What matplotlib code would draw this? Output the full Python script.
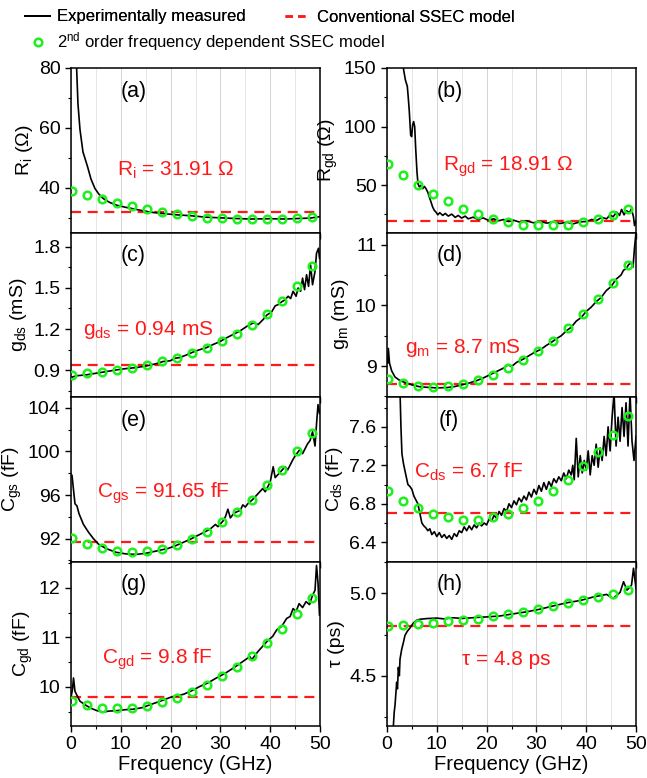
import numpy as np
import matplotlib
matplotlib.use("Agg")
import matplotlib.pyplot as plt
from matplotlib.lines import Line2D
from matplotlib.ticker import MultipleLocator, FormatStrFormatter

plt.rcParams['font.family'] = ['Liberation Sans', 'DejaVu Sans']
plt.rcParams['mathtext.fontset'] = 'custom'
plt.rcParams['mathtext.rm'] = 'Liberation Sans'
plt.rcParams['mathtext.it'] = 'Liberation Sans'
plt.rcParams['mathtext.default'] = 'regular'

# frequency points of the 2nd order model (GHz)
fit_freq = [0.3, 3.3, 6.3, 9.3, 12.3, 15.3, 18.3, 21.3, 24.3, 27.3, 30.3, 33.3, 36.3, 39.3, 42.3, 45.3, 48.3]

# (a) Ri
a_freq = [0.6, 0.9, 1.15, 1.4, 1.8, 2.4, 3.3, 4.0, 4.8, 5.6, 6.5, 7.8, 9.2, 11.0, 12.5, 14.0, 15.9, 18.0,
          21.2, 24.0, 27.2, 30.0, 32.6, 36.0, 40.0, 43.0, 46.0, 48.0, 50.0]
a_meas = [100, 88, 79, 68, 59.5, 52, 47.2, 43.0, 39.8, 37.9, 36.4, 35.1, 34.2, 33.5, 33.0, 32.5, 31.9, 31.5,
          31.0, 30.7, 30.2, 30.0, 29.8, 29.6, 29.7, 29.6, 29.8, 29.9, 30.4]
a_fit = [39.0, 37.5, 36.2, 34.9, 33.8, 32.8, 32.1, 31.3, 30.6, 30.1, 29.9, 29.7, 29.7, 29.7, 29.7, 29.9, 30.3]
a_conv = 31.91

# (b) Rgd
b_freq = [3.1, 3.28, 3.68, 4.08, 4.28, 4.48, 4.75, 4.95, 5.15, 5.35, 5.56, 5.76, 6.02, 6.22, 6.49, 6.83, 7.16,
          7.5, 7.83, 8.17, 8.5, 8.84, 9.17, 9.5, 9.84, 10.2, 10.6, 11.2, 11.7, 12.3, 13.0, 13.7, 14.3, 15.0,
          15.7, 16.3, 17.3, 18.3, 19.3, 20.3, 21.4, 22.4, 23.4, 24.4, 25.4, 26.7, 28.0, 29.4, 30.7, 32.1,
          33.4, 34.7, 36.1, 37.4, 38.8, 40.1, 41.1, 42.1, 43.1, 44.1, 44.8, 45.4, 46.1, 46.7, 47.1, 47.6,
          48.1, 48.7, 49.1, 49.5, 49.7, 50.0]
b_meas = [160, 150, 140, 134.3, 124.2, 112.8, 92.8, 91.4, 101.4, 104.2, 99.9, 81.3, 61.2, 51.2, 48.4, 49.8, 46.9,
          48.9, 46.9, 44.1, 39.8, 35.5, 31.2, 28.4, 26.9, 24.6, 26.4, 24.1, 25.8, 23.5, 25.2, 22.4, 24.1, 21.8,
          23.5, 21.2, 22.6, 20.6, 22.0, 20.0, 21.2, 19.5, 20.6, 18.9, 20.0, 18.3, 19.5, 17.8, 18.9, 17.5,
          18.6, 17.2, 18.3, 16.9, 18.6, 18.9, 20.6, 19.8, 22.4, 21.2, 24.6, 22.9, 26.9, 24.1, 29.2, 24.6,
          28.1, 26.4, 29.8, 22.6, 15.4, 19.8]
b_fit = [67.6, 58.4, 49.8, 42.7, 36.1, 29.8, 24.9, 21.2, 18.3, 16.3, 15.5, 15.5, 16.3, 18.3, 21.2, 24.6, 29.2]
b_conv = 18.91

# (c) gds
c_freq = [0, 1.14, 3.15, 5.15, 7.16, 9.17, 11.2, 13.2, 15.2, 17.2, 18.5, 19.9, 20.9, 21.9, 23.2, 24.6, 25.9,
          27.2, 28.6, 29.9, 31.3, 32.6, 33.9, 35.3, 36.6, 37.6, 38.6, 39.3, 40.3, 41.0, 41.6, 42.3, 43.0,
          43.6, 44.1, 44.6, 45.2, 45.6, 46.1, 46.5, 46.9, 47.3, 47.7, 48.1, 48.5, 49.0, 49.3, 49.7, 49.9]
c_meas = [0.847, 0.859, 0.866, 0.878, 0.890, 0.902, 0.912, 0.919, 0.931, 0.948, 0.963, 0.968, 0.987, 0.992,
          1.011, 1.033, 1.050, 1.064, 1.088, 1.108, 1.137, 1.161, 1.185, 1.219, 1.245, 1.233, 1.270, 1.301,
          1.325, 1.369, 1.378, 1.398, 1.414, 1.439, 1.422, 1.475, 1.439, 1.499, 1.475, 1.571, 1.487, 1.596,
          1.511, 1.668, 1.523, 1.620, 1.753, 1.789, 1.716]
c_fit = [0.864, 0.876, 0.888, 0.902, 0.914, 0.934, 0.965, 0.992, 1.028, 1.064, 1.113, 1.166, 1.229, 1.311,
         1.402, 1.516, 1.656]
c_conv = 0.94

# (d) gm
d_freq = [0.15, 0.27, 0.5, 0.94, 1.6, 2.6, 3.9, 5.0, 6.5, 8.0, 10.0, 12.0, 13.5, 15.0, 16.5, 18.0, 19.5, 21.0,
          22.5, 23.5, 24.3, 25.0, 26.0, 27.5, 28.5, 29.5, 31.0, 32.0, 33.0, 34.0, 35.0, 36.0, 37.0, 38.0,
          39.0, 40.0, 41.0, 42.0, 43.0, 44.0, 45.0, 46.0, 47.0, 47.5, 48.0, 48.5, 49.0, 49.4, 49.7, 50.0]
d_meas = [9.05, 9.29, 9.05, 8.92, 8.82, 8.76, 8.72, 8.69, 8.66, 8.65, 8.64, 8.645, 8.66, 8.69, 8.72, 8.76,
          8.81, 8.87, 8.93, 8.97, 9.02, 8.99, 9.06, 9.12, 9.17, 9.22, 9.28, 9.34, 9.39, 9.45, 9.50, 9.58,
          9.64, 9.74, 9.80, 9.90, 9.97, 10.06, 10.13, 10.24, 10.31, 10.43, 10.50, 10.58, 10.60, 10.67, 10.70,
          10.63, 10.95, 11.2]
d_fit = [8.78, 8.72, 8.67, 8.65, 8.67, 8.71, 8.77, 8.85, 8.97, 9.10, 9.25, 9.42, 9.62, 9.85, 10.10, 10.37, 10.66]
d_conv = 8.7

# (e) Cgs
e_freq = [0.2, 0.5, 0.8, 1.2, 1.6, 2.5, 3.5, 4.5, 5.5, 7.0, 9.0, 11.0, 13.0, 15.0, 16.5, 18.0, 19.5, 21.0,
          22.5, 24.0, 25.5, 27.0, 28.0, 29.0, 29.5, 30.5, 31.0, 31.5, 32.0, 32.5, 33.0, 34.0, 34.5, 35.0,
          35.5, 36.5, 37.5, 38.5, 39.0, 40.0, 40.6, 41.0, 42.0, 43.0, 43.5, 44.5, 45.0, 46.0, 46.5, 47.5,
          48.0, 48.5, 49.0, 49.3, 49.6, 49.9]
e_meas = [97.8, 96.5, 95.2, 95.0, 94.3, 93.3, 92.6, 92.0, 91.5, 91.1, 90.75, 90.6, 90.55, 90.65, 90.8, 90.95,
          91.1, 91.35, 91.65, 91.95, 92.3, 92.65, 92.9, 93.3, 93.1, 93.6, 94.0, 94.7, 93.9, 94.2, 94.4, 94.6,
          95.1, 94.9, 95.2, 95.6, 96.1, 96.6, 96.3, 97.2, 98.6, 97.6, 98.1, 98.6, 98.3, 99.2, 99.6, 100.2,
          99.8, 100.7, 101.0, 101.8, 100.5, 102.5, 104.3, 103.5]
e_fit = [92.1, 91.55, 91.1, 90.87, 90.77, 90.87, 91.05, 91.4, 91.92, 92.63, 93.5, 94.44, 95.55, 96.9, 98.3,
         100.0, 101.7]
e_conv = 91.65

# (f) Cds
f_freq = [2.6, 2.8, 3.0, 3.3, 3.7, 4.2, 4.6, 5.0, 5.4, 5.8, 6.2, 6.6, 7.0, 7.4, 7.8, 8.2, 8.6, 9.0, 9.5, 10.0,
          10.5, 11.0, 11.5, 12.0, 12.5, 13.0, 13.5, 14.0, 14.5, 15.0, 15.5, 16.0, 16.5, 17.0, 17.5, 18.0,
          18.5, 19.0, 19.5, 20.0, 20.5, 21.0, 21.5, 22.0, 22.5, 23.0, 23.5, 24.0, 24.5, 25.0, 25.5, 26.0,
          26.5, 27.0, 27.5, 28.0, 28.5, 29.0, 29.5, 30.0, 30.5, 31.0, 31.5, 32.0, 32.5, 33.0, 33.5, 34.0,
          34.5, 35.0, 35.5, 36.0, 36.5, 37.0, 37.3, 37.6, 38.0, 38.4, 38.8, 39.2, 39.6, 40.0, 40.4, 40.8,
          41.2, 41.6, 42.0, 42.4, 42.8, 43.2, 43.6, 44.0, 44.4, 44.8, 45.2, 45.6, 46.0, 46.4, 46.8, 47.2,
          47.6, 48.0, 48.4, 48.8, 49.2, 49.6, 50.0]
f_meas = [8.0, 7.6, 7.32, 7.22, 7.12, 7.0, 6.98, 6.95, 6.88, 6.84, 6.8, 6.7, 6.6, 6.57, 6.55, 6.52, 6.54,
          6.48, 6.51, 6.46, 6.5, 6.45, 6.48, 6.44, 6.47, 6.43, 6.49, 6.46, 6.52, 6.5, 6.56, 6.52, 6.57, 6.53,
          6.58, 6.55, 6.6, 6.57, 6.6, 6.58, 6.64, 6.62, 6.68, 6.65, 6.72, 6.68, 6.75, 6.72, 6.8, 6.76, 6.83,
          6.79, 6.86, 6.82, 6.88, 6.84, 6.92, 6.87, 6.95, 6.9, 6.99, 6.93, 7.02, 6.95, 7.03, 6.98, 7.06, 7.02,
          7.08, 7.04, 7.12, 7.06, 7.15, 7.1, 7.2, 7.05, 7.48, 7.08, 7.3, 7.12, 7.25, 7.15, 7.35, 7.1, 7.3, 7.2,
          7.42, 7.18, 7.38, 7.25, 7.5, 7.3, 7.6, 7.35, 7.7, 7.95, 7.4, 7.7, 7.45, 7.8, 7.5, 7.85, 7.4, 7.95,
          7.45, 7.25, 7.5]
f_fit = [6.936, 6.834, 6.759, 6.698, 6.658, 6.634, 6.634, 6.658, 6.692, 6.759, 6.834, 6.929, 7.047, 7.19,
         7.342, 7.519, 7.715]
f_conv = 6.7

# (g) Cgd
g_freq = [0, 0.3, 0.5, 0.8, 1.1, 1.8, 3.1, 4.2, 5.2, 6.5, 7.5, 9.2, 11.0, 12.6, 14.3, 15.9, 17.9, 20.0, 22.6,
          24.2, 25.9, 27.5, 29.2, 30.9, 32.6, 34.2, 35.9, 36.3, 37.6, 39.3, 40.5, 41.3, 42.3, 43.3, 44.0,
          44.6, 45.2, 45.8, 46.5, 47.2, 47.9, 48.5, 49.0, 49.3, 49.6, 49.9]
g_meas = [9.79, 9.95, 10.18, 9.91, 9.85, 9.71, 9.62, 9.56, 9.52, 9.49, 9.51, 9.52, 9.54, 9.55, 9.58, 9.64,
          9.71, 9.79, 9.85, 9.92, 10.01, 10.08, 10.18, 10.27, 10.38, 10.49, 10.61, 10.55, 10.72, 10.91,
          11.02, 11.15, 11.22, 11.38, 11.42, 11.58, 11.52, 11.68, 11.60, 11.72, 11.66, 11.85, 11.95, 12.45,
          12.1, 11.45]
g_fit = [9.713, 9.633, 9.58, 9.567, 9.58, 9.613, 9.693, 9.78, 9.9, 10.04, 10.21, 10.41, 10.63, 10.88, 11.16,
         11.47, 11.8]
g_conv = 9.8

# (h) tau
h_freq = [1.27, 1.45, 1.61, 1.8, 1.94, 2.1, 2.28, 2.48, 2.61, 2.95, 3.28, 3.61, 4.08, 4.62, 5.29, 5.96, 6.63,
          7.97, 9.97, 11.5, 13.3, 15.0, 16.7, 18.5, 20.0, 22.7, 25.4, 28.0, 30.7, 33.4, 36.1, 38.8, 41.4,
          44.1, 45.4, 46.2, 46.8, 47.5, 48.2, 49.1, 49.5, 49.8, 50.0]
h_meas = [4.19, 4.28, 4.32, 4.40, 4.46, 4.42, 4.55, 4.50, 4.60, 4.66, 4.70, 4.745, 4.77, 4.79, 4.82, 4.837,
          4.843, 4.847, 4.85, 4.845, 4.852, 4.848, 4.851, 4.855, 4.857, 4.863, 4.876, 4.888, 4.904, 4.924,
          4.943, 4.957, 4.978, 4.994, 4.969, 4.99, 5.006, 5.071, 5.02, 5.05, 5.153, 5.08, 5.03]
h_fit = [4.802, 4.806, 4.816, 4.822, 4.831, 4.837, 4.847, 4.861, 4.873, 4.888, 4.904, 4.922, 4.939, 4.957,
         4.976, 4.998, 5.022]
h_conv = 4.8

panels = [
    ("(a)", a_freq, a_meas, a_fit, a_conv, (25.1, 80), 20, 10, "%d",
     r"R$_i$ ($\Omega$)", r"R$_i$ = 31.91 $\Omega$", (0.185, 0.38)),
    ("(b)", b_freq, b_meas, b_fit, b_conv, (9.5, 150), 50, 25, "%d",
     r"R$_{gd}$ ($\Omega$)", r"R$_{gd}$ = 18.91 $\Omega$", (0.225, 0.40)),
    ("(c)", c_freq, c_meas, c_fit, c_conv, (0.704, 1.904), 0.3, 0.15, "%.1f",
     r"g$_{ds}$ (mS)", r"g$_{ds}$ = 0.94 mS", (0.048, 0.41)),
    ("(d)", d_freq, d_meas, d_fit, d_conv, (8.49, 11.2), 1, 0.5, "%d",
     r"g$_m$ (mS)", r"g$_m$ = 8.7 mS", (0.072, 0.295)),
    ("(e)", e_freq, e_meas, e_fit, e_conv, (89.9, 105.0), 4, 2, "%d",
     r"C$_{gs}$ (fF)", r"C$_{gs}$ = 91.65 fF", (0.103, 0.415)),
    ("(f)", f_freq, f_meas, f_fit, f_conv, (6.2, 7.91), 0.4, 0.2, "%.1f",
     r"C$_{ds}$ (fF)", r"C$_{ds}$ = 6.7 fF", (0.109, 0.545)),
    ("(g)", g_freq, g_meas, g_fit, g_conv, (9.21, 12.53), 1, 0.5, "%d",
     r"C$_{gd}$ (fF)", r"C$_{gd}$ = 9.8 fF", (0.123, 0.404)),
    ("(h)", h_freq, h_meas, h_fit, h_conv, (4.194, 5.194), 0.5, 0.25, "%.1f",
     "τ (ps)", "τ = 4.8 ps", (0.30, 0.407)),
]

green = "#1ef01e"
red = "#ff1a1a"

fig = plt.figure(figsize=(6.47, 7.78), dpi=100)
W, H = 647.0, 778.0
lefts = [71 / W, 387 / W]
width = 249 / W
top_px, row_px = 68.0, 164.5

for i, p in enumerate(panels):
    tag, fx, fy, fit, conv, ylim, major, minor, fmt, ylab, note, note_xy = p
    row, col = i // 2, i % 2
    bottom = 1 - (top_px + row_px * (row + 1)) / H
    ax = fig.add_axes([lefts[col], bottom, width, row_px / H])

    ax.plot(fx, fy, color="black", lw=1.2, zorder=3)
    ax.axhline(conv, color=red, lw=1.6, ls=(0, (4.5, 3)), zorder=2)
    ax.plot(fit_freq, fit, ls="none", marker="o", ms=5.5, mfc="none", mec=green, mew=1.8, zorder=4)

    ax.set_xlim(0, 50)
    ax.set_ylim(*ylim)
    ax.xaxis.set_major_locator(MultipleLocator(10))
    ax.xaxis.set_minor_locator(MultipleLocator(5))
    ax.yaxis.set_major_locator(MultipleLocator(major))
    ax.yaxis.set_minor_locator(MultipleLocator(minor))
    ax.yaxis.set_major_formatter(FormatStrFormatter(fmt))
    ax.grid(True, which="major", axis="x", color="#d4d4d4", lw=0.7)
    ax.grid(True, which="minor", axis="x", color="#e6e6e6", lw=0.7)
    ax.set_axisbelow(True)
    ax.tick_params(which="major", direction="out", length=4, width=1, labelsize=14)
    ax.tick_params(which="minor", direction="out", length=2.5, width=0.8)
    for s in ax.spines.values():
        s.set_linewidth(1.1)

    if row < 3:
        ax.tick_params(axis="x", labelbottom=False)
    else:
        ax.set_xlabel("Frequency (GHz)", fontsize=14.5, labelpad=1)
    ax.set_ylabel(ylab, fontsize=14, labelpad=3)

    ax.text(0.25, 0.86, tag, transform=ax.transAxes, fontsize=15.5, ha="center", va="center")
    ax.text(note_xy[0], note_xy[1], note, transform=ax.transAxes, fontsize=15, color=red,
            ha="left", va="center")

# legend at the top
h_meas_line = Line2D([], [], color="black", lw=1.4)
h_conv_line = Line2D([], [], color=red, lw=1.8, ls=(0, (3, 2)))
h_fit_mark = Line2D([], [], ls="none", marker="o", ms=5.5, mfc="none", mec=green, mew=1.8)

leg1 = fig.legend([h_meas_line, h_conv_line], ["Experimentally measured", "Conventional SSEC model"],
                  loc="center left", bbox_to_anchor=(25 / W, 1 - 17 / H), ncol=2, frameon=False,
                  fontsize=12, handlelength=1.5, handletextpad=0.4, columnspacing=2.4,
                  borderpad=0, borderaxespad=0)
leg2 = fig.legend([h_fit_mark], [r"2$^{nd}$ order frequency dependent SSEC model"],
                  loc="center left", bbox_to_anchor=(25 / W, 1 - 42 / H), frameon=False,
                  fontsize=12, handlelength=1.5, handletextpad=0.4, borderpad=0, borderaxespad=0)
fig.add_artist(leg1)

fig.savefig("out.png", dpi=100)
